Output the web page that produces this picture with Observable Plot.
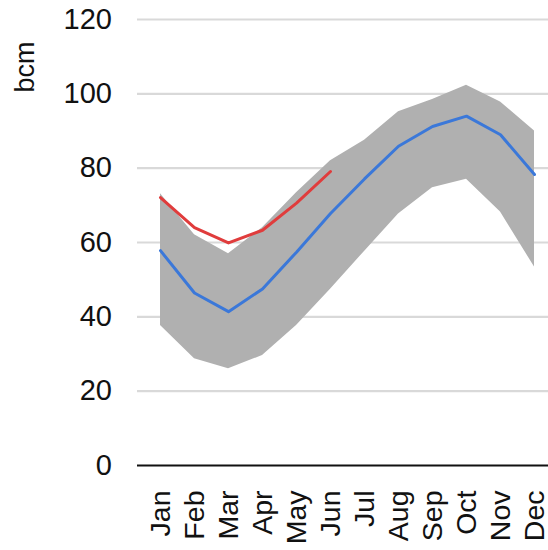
<!DOCTYPE html>
<html>
<head>
<meta charset="utf-8">
<script src="https://cdn.jsdelivr.net/npm/d3@7"></script>
<script src="https://cdn.jsdelivr.net/npm/@observablehq/plot@0.6"></script>
<style>
  html, body { margin: 0; padding: 0; background: #fff; }
  #chart svg { display: block; }
</style>
</head>
<body>
<div id="chart"></div>
<script>
const months = ["Jan","Feb","Mar","Apr","May","Jun","Jul","Aug","Sep","Oct","Nov","Dec"];
const maxVals = [73.1, 62.1, 57, 64, 73.4, 82, 87.5, 95.2, 98.5, 102.3, 97.8, 90];
const minVals = [37.7, 28.7, 26, 29.6, 37.7, 47.4, 57.6, 67.7, 74.7, 77, 68.2, 53.4];
const avgVals = [57.8, 46.4, 41.4, 47.5, 57.4, 67.8, 77.1, 85.9, 91.2, 94, 89, 78.3];
const currentVals = [72.1, 64, 59.9, 63.3, 70.6, 79.1];
const yTicks = [0, 20, 40, 60, 80, 100, 120];
const yLabel = "bcm";

const band = months.map((m, i) => ({month: m, min: minVals[i], max: maxVals[i], avg: avgVals[i]}));
const current = currentVals.map((v, i) => ({month: months[i], value: v}));

const font = "'Liberation Sans', Arial, sans-serif";

const chart = Plot.plot({
  width: 548,
  height: 550,
  marginTop: 19,
  marginBottom: 85,
  marginLeft: 137,
  marginRight: 0,
  style: {fontFamily: font, background: "#fff", color: "#111"},
  x: {type: "point", domain: months, range: [154.8, 539.3], padding: 0, align: 0.5},
  y: {domain: [0, 120]},
  marks: [
    Plot.ruleY(yTicks.filter(d => d > 0), {stroke: "#d9d9d9", strokeWidth: 2.2}),
    Plot.areaY(band, {x: "month", y1: "min", y2: "max", fill: "#b0b0b0"}),
    Plot.lineY(band, {x: "month", y: "avg", stroke: "#3b78d9", strokeWidth: 3}),
    Plot.lineY(current, {x: "month", y: "value", stroke: "#e03c3c", strokeWidth: 3}),
    Plot.ruleY([0], {stroke: "#111", strokeWidth: 2.2}),
    Plot.axisY({ticks: yTicks, tickSize: 0, tickPadding: 25.5, fontSize: 29, label: null, tickFormat: d => String(d), fill: "#111"}),
    Plot.axisX({tickSize: 0, tickPadding: 25, tickRotate: -90, fontSize: 28.5, label: null, fill: "#111"}),
    Plot.text([yLabel], {frameAnchor: "top-left", dx: -112, dy: 47.5, rotate: -90, text: d => d, fontSize: 27, textAnchor: "middle", lineAnchor: "middle", fill: "#111"})
  ]
});
document.getElementById("chart").appendChild(chart);
</script>
</body>
</html>
